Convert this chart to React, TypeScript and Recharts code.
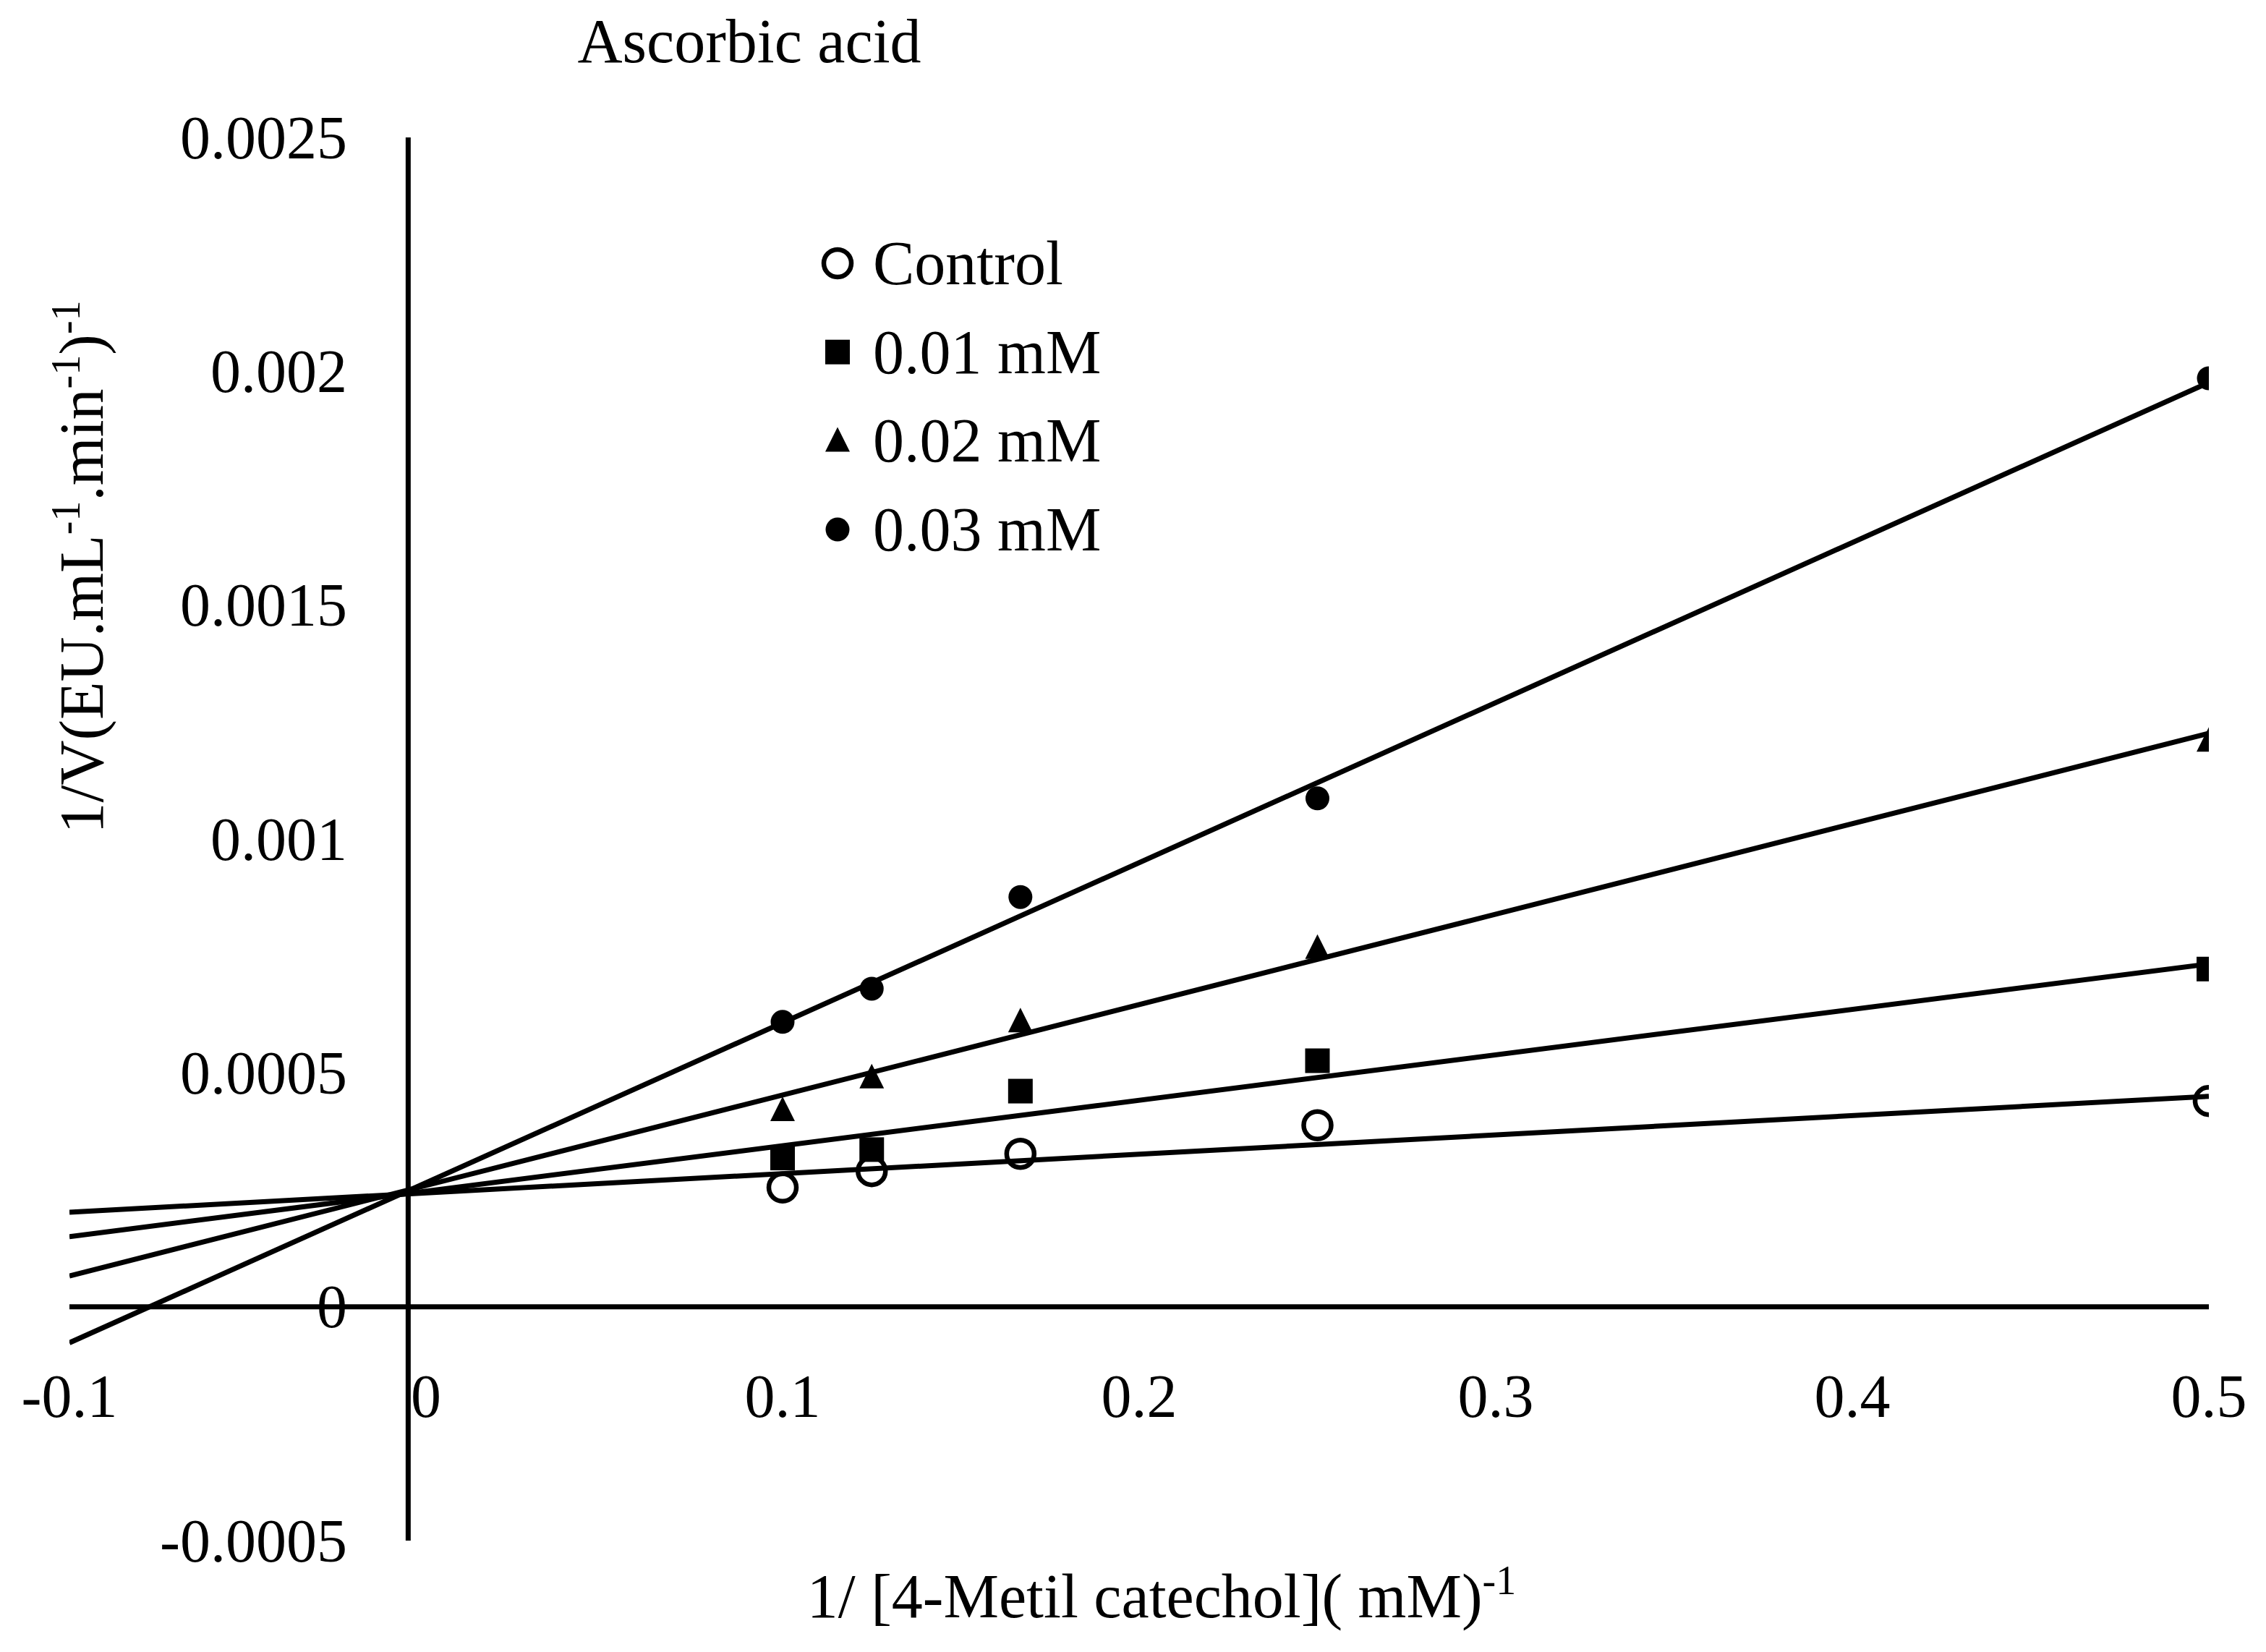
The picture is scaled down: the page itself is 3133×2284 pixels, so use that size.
import * as React from "react";
import {
  ComposedChart,
  Scatter,
  Line,
  XAxis,
  YAxis,
  ReferenceLine,
  Legend,
} from "recharts";

// substrate concentrations (1/[S], mM^-1)
const X_VALUES = [0.1, 0.125, 0.1667, 0.25, 0.5];

// 1/V readings per inhibitor concentration
const CONTROL = [0.000255, 0.00029, 0.000327, 0.000388, 0.00044];
const MM_001 = [0.000318, 0.000336, 0.000461, 0.000526, 0.000722];
const MM_002 = [0.00042, 0.00049, 0.00061, 0.000767, 0.00121];
const MM_003 = [0.000609, 0.00068, 0.000876, 0.001087, 0.001985];

// linear trendline ends (at x = -0.1 and x = 0.5)
const TREND_X = [-0.1, 0.5];
const TREND_CONTROL = [0.000202, 0.00045];
const TREND_001 = [0.00015, 0.000733];
const TREND_002 = [0.000066, 0.001226];
const TREND_003 = [-0.000077, 0.001976];

const X_TICKS = [-0.1, 0, 0.1, 0.2, 0.3, 0.4, 0.5];
const Y_TICKS = [-0.0005, 0, 0.0005, 0.001, 0.0015, 0.002, 0.0025];

// Excel put the vertical axis just left of zero
const Y_AXIS_CROSS = -0.005;

const FONT = '"Liberation Serif", "Times New Roman", serif';

const toPoints = (xs: number[], ys: number[]) => xs.map((x, i) => ({ x, y: ys[i] }));

type Kind = "open" | "square" | "triangle" | "dot";

const SERIES: { name: string; kind: Kind; values: number[]; trend: number[] }[] = [
  { name: "Control", kind: "open", values: CONTROL, trend: TREND_CONTROL },
  { name: "0.01 mM", kind: "square", values: MM_001, trend: TREND_001 },
  { name: "0.02 mM", kind: "triangle", values: MM_002, trend: TREND_002 },
  { name: "0.03 mM", kind: "dot", values: MM_003, trend: TREND_003 },
];

function Marker({ kind, cx, cy }: { kind: Kind; cx: number; cy: number }) {
  if (kind === "open")
    return <circle cx={cx} cy={cy} r={19} fill="none" stroke="#000" strokeWidth={6.5} />;
  if (kind === "square")
    return <rect x={cx - 17} y={cy - 17} width={34} height={34} fill="#000" />;
  if (kind === "triangle")
    return (
      <polygon
        points={`${cx},${cy - 19} ${cx + 17},${cy + 15} ${cx - 17},${cy + 15}`}
        fill="#000"
      />
    );
  return <circle cx={cx} cy={cy} r={16.5} fill="#000" />;
}

const shapeFor = (kind: Kind) => (props: any) =>
  <Marker kind={kind} cx={props.cx} cy={props.cy} />;

function YTick({ y, payload }: any) {
  return (
    <text x={480} y={y} textAnchor="end" dominantBaseline="central" fontFamily={FONT} fontSize={84} fill="#000">
      {String(payload.value)}
    </text>
  );
}

function XTick({ x, payload }: any) {
  return (
    <text x={x} y={1930} textAnchor="middle" dominantBaseline="central" fontFamily={FONT} fontSize={84} fill="#000">
      {String(payload.value)}
    </text>
  );
}

function LegendBox({ payload }: any) {
  const items = (payload || [])
    .filter((p: any) => p.type !== "none")
    .sort(
      (a: any, b: any) =>
        SERIES.findIndex((s) => s.name === a.value) - SERIES.findIndex((s) => s.name === b.value)
    );
  return (
    <svg width={700} height={500} style={{ overflow: "visible" }}>
      {items.map((p: any, i: number) => {
        const s = SERIES.find((d) => d.name === p.value);
        const cy = 64 + i * 122.7;
        return (
          <g key={p.value}>
            {s && <Marker kind={s.kind} cx={38} cy={cy} />}
            <text x={87} y={cy} dominantBaseline="central" fontFamily={FONT} fontSize={86} fill="#000">
              {p.value}
            </text>
          </g>
        );
      })}
    </svg>
  );
}

export default function App() {
  return (
    <div style={{ width: 3133, height: 2284, background: "#fff" }}>
      <style>{"body{margin:0}"}</style>
      <ComposedChart
        width={3133}
        height={2284}
        margin={{ top: 190, right: 79, bottom: 153, left: 95 }}
      >
        <XAxis
          type="number"
          dataKey="x"
          domain={[-0.1, 0.5]}
          ticks={X_TICKS}
          allowDataOverflow
          axisLine={false}
          tickLine={false}
          height={1}
          tick={<XTick />}
          interval={0}
        />
        <YAxis
          type="number"
          dataKey="y"
          domain={[-0.0005, 0.0025]}
          ticks={Y_TICKS}
          allowDataOverflow
          axisLine={false}
          tickLine={false}
          width={1}
          tick={<YTick />}
          interval={0}
        />
        <ReferenceLine y={0} stroke="#000" strokeWidth={7} />
        <ReferenceLine x={Y_AXIS_CROSS} stroke="#000" strokeWidth={7} />
        {SERIES.map((s) => (
          <Line
            key={"t" + s.name}
            data={toPoints(TREND_X, s.trend)}
            dataKey="y"
            stroke="#000"
            strokeWidth={7}
            dot={false}
            activeDot={false}
            legendType="none"
            isAnimationActive={false}
          />
        ))}
        {SERIES.map((s) => (
          <Scatter
            key={s.name}
            name={s.name}
            data={toPoints(X_VALUES, s.values)}
            fill="#000"
            shape={shapeFor(s.kind)}
            isAnimationActive={false}
          />
        ))}
        <Legend
          layout="vertical"
          align="center"
          verticalAlign="middle"
          content={<LegendBox />}
          wrapperStyle={{ left: 1120, top: 300, width: 700, height: 500 }}
        />
        <text x={1036} y={86} textAnchor="middle" fontFamily={FONT} fontSize={86} fill="#000">
          Ascorbic acid
        </text>
        <text
          x={142}
          y={784}
          transform="rotate(-90 142 784)"
          textAnchor="middle"
          fontFamily={FONT}
          fontSize={86}
          fill="#000"
        >
          1/V(EU.mL
          <tspan fontSize={56} dy={-32}>-1</tspan>
          <tspan dy={32}>.min</tspan>
          <tspan fontSize={56} dy={-32}>-1</tspan>
          <tspan dy={32}>)</tspan>
          <tspan fontSize={56} dy={-32}>-1</tspan>
        </text>
        <text x={1606} y={2236} textAnchor="middle" fontFamily={FONT} fontSize={86} fill="#000">
          1/ [4-Metil catechol]( mM)
          <tspan fontSize={56} dy={-32}>-1</tspan>
        </text>
      </ComposedChart>
    </div>
  );
}
